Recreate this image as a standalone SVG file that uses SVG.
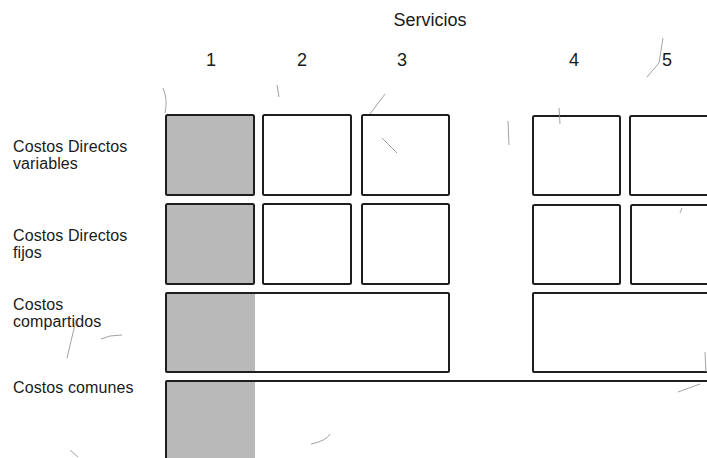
<svg xmlns="http://www.w3.org/2000/svg" width="707" height="458" viewBox="0 0 707 458">
<style>
.t{font-family:"Liberation Sans",Arial,sans-serif;font-size:16px;fill:#1a1a1a;letter-spacing:0.1px}
.n{font-family:"Liberation Sans",Arial,sans-serif;font-size:18px;fill:#1a1a1a;text-anchor:middle}
.b{fill:#fff;stroke:#1e1e1e;stroke-width:2}
.g{fill:#b9b9b9}
.m{fill:none;stroke:#8a8a8a;stroke-width:0.8}
</style>
<rect width="707" height="458" fill="#fff"/>
<g id="header">
<text class="n" x="430" y="26">Servicios</text>
<text class="n" x="211" y="66">1</text>
<text class="n" x="302" y="66">2</text>
<text class="n" x="402" y="66">3</text>
<text class="n" x="574" y="66">4</text>
<text class="n" x="667" y="66">5</text>
</g>
<g id="labels">
<text class="t" x="13" y="152">Costos Directos</text>
<text class="t" x="13" y="169">variables</text>
<text class="t" x="13" y="241">Costos Directos</text>
<text class="t" x="13" y="258">fijos</text>
<text class="t" x="13" y="310">Costos</text>
<text class="t" x="13" y="327">compartidos</text>
<text class="t" x="13" y="393">Costos comunes</text>
</g>
<g id="row1">
<rect class="b g" x="166" y="115" width="88" height="80" rx="1.5"/>
<rect class="b" x="263" y="115" width="88" height="80" rx="1.5"/>
<rect class="b" x="362" y="115" width="87" height="80" rx="1.5"/>
<rect class="b" x="533" y="116" width="87" height="79" rx="1.5"/>
<rect class="b" x="630" y="116" width="90" height="79" rx="1.5"/>
</g>
<g id="row2">
<rect class="b g" x="166" y="204" width="88" height="80" rx="1.5"/>
<rect class="b" x="263" y="204" width="88" height="80" rx="1.5"/>
<rect class="b" x="362" y="204" width="87" height="80" rx="1.5"/>
<rect class="b" x="533" y="205" width="87" height="79" rx="1.5"/>
<rect class="b" x="631" y="205" width="90" height="79" rx="1.5"/>
</g>
<g id="row3">
<rect class="b" x="166" y="293" width="283" height="79" rx="1"/>
<rect class="g" x="167" y="294" width="88" height="77"/>
<rect class="b" x="533" y="293" width="190" height="79" rx="1"/>
</g>
<g id="row4">
<rect class="b" x="166" y="381" width="560" height="90" rx="1"/>
<rect class="g" x="167" y="382" width="88" height="80"/>
</g>
<g id="connectors"/>
<g id="scan-marks">
<path class="m" d="M163 88 Q168 100 165 113"/>
<path class="m" d="M277 85 L279 97"/>
<path class="m" d="M370 114 L385 94"/>
<path class="m" d="M382 138 L397 153"/>
<path class="m" d="M559 108 L560 124"/>
<path class="m" d="M508 121 L509 145"/>
<path class="m" d="M647 77 L659 63 L663 38"/>
<path class="m" d="M680 213 L682 208"/>
<path class="m" d="M101 339 L110 336 L122 335"/>
<path class="m" d="M76 320 L67 358"/>
<path class="m" d="M70 450 L78 457"/>
<path class="m" d="M311 444 Q326 441 330 434"/>
<path class="m" d="M678 392 L700 384"/>
<path class="m" d="M705 352 L706 372"/>
</g>
</svg>
